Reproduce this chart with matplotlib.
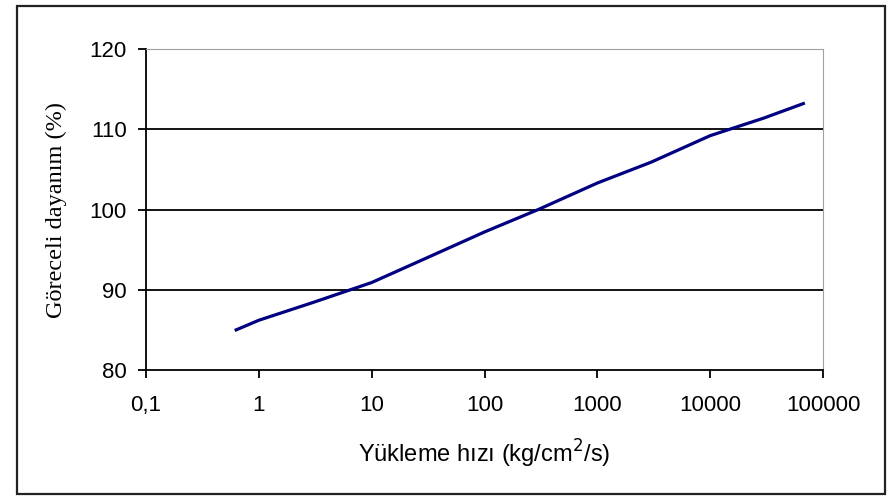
import matplotlib.pyplot as plt
from matplotlib.patches import Rectangle

# yukleme hizi (kg/cm2/s) ve goreceli dayanim (%)
hiz = [0.63, 1, 3, 10, 30, 100, 300, 1000, 3000, 10000, 30000, 67000]
dayanim = [85.0, 86.2, 88.4, 90.9, 93.9, 97.2, 100.0, 103.3, 105.9, 109.2, 111.4, 113.2]

xticks = [0.1, 1, 10, 100, 1000, 10000, 100000]
xticklabels = ['0,1', '1', '10', '100', '1000', '10000', '100000']
yticks = [80, 90, 100, 110, 120]

fig = plt.figure(figsize=(8.92, 4.96), dpi=100)
ax = fig.add_axes([146/892, 1-370/496, (823-146)/892, (370-49)/496])

for y in [90, 100, 110]:
    ax.axhline(y, color='black', linewidth=1.3, zorder=1)
ax.plot(hiz, dayanim, color='#000080', linewidth=2.3, zorder=3)

ax.set_xscale('log')
ax.set_xlim(0.1, 100000)
ax.set_ylim(80, 120)
ax.set_xticks(xticks)
ax.set_xticklabels(xticklabels)
ax.minorticks_off()
ax.set_yticks(yticks)

ax.tick_params(axis='both', direction='out', length=6, width=1.3, color='black',
               labelsize=16, labelfontfamily='Liberation Sans')
ax.tick_params(axis='x', pad=12)
ax.tick_params(axis='y', pad=8)

ax.spines['left'].set_color('black')
ax.spines['bottom'].set_color('black')
ax.spines['left'].set_linewidth(1.3)
ax.spines['bottom'].set_linewidth(1.3)
ax.spines['top'].set_color('#a0a0a0')
ax.spines['right'].set_color('#a0a0a0')

ax.set_xlabel('Yükleme hızı (kg/cm$^2$/s)', fontsize=17, family='Liberation Sans', labelpad=16)
ax.set_ylabel('Göreceli dayanım (%)', fontsize=17.5, family='Liberation Serif', labelpad=16)

fig.add_artist(Rectangle((17/892, 1-494/496), (885-17)/892, (494-6)/496,
                         transform=fig.transFigure, fill=False, edgecolor='#222222', linewidth=1.6))

fig.savefig('out.png', dpi=100)
